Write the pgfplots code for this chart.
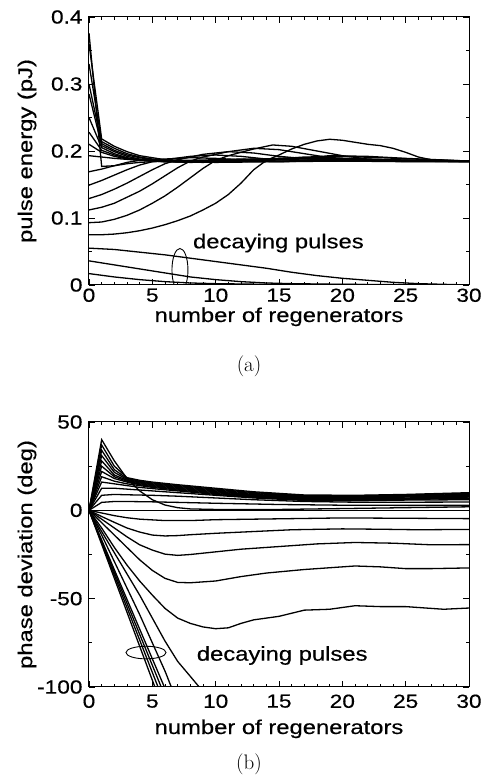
\documentclass[border=0pt]{standalone}
\usepackage{fontspec}
\usepackage{pgfplots}
\pgfplotsset{compat=1.18}
\newfontfamily\lab{Liberation Sans}[FakeStretch=1.19, FakeBold=0.4]
\pgfplotscreateplotcyclelist{mylist}{{black,solid,line width=1.3pt,mark=none}\\}
\pgfplotsset{myax/.style={
  scale only axis, width=380pt, xmin=0, xmax=30,
  axis line style={line width=1pt},
  xtick={0,5,...,30}, xticklabels={0,5,10,15,20,25,30},
  minor x tick num=4,
  major tick length=6pt, minor tick length=3pt,
  tick style={black, line width=0.7pt},
  tick label style={font=\lab\fontsize{19}{21}\selectfont},
  yticklabel style={xshift=-3pt},
  label style={font=\lab\fontsize{20}{22}\selectfont},
  xlabel={number of regenerators},
  ylabel style={at={([xshift=-62pt]axis description cs:0,0.5)}, anchor=center},
  cycle list name=mylist,
}}
\begin{document}
\begin{tikzpicture}
\useasboundingbox (0,0) rectangle (486pt,778pt);
% ---------------- panel (a)
\begin{axis}[myax, at={(89pt,493pt)}, anchor=south west, height=268pt,
  ymin=0, ymax=0.4, ytick={0,0.1,0.2,0.3,0.4}, yticklabels={0,0.1,0.2,0.3,0.4},
  minor y tick num=1,
  xlabel style={at={(axis description cs:0.5,0)}, anchor=base, yshift=-37pt},
  ylabel={pulse energy (pJ)}]
% upper curves
\addplot coordinates {(0,0.376)(1,0.177)(2,0.178)(3,0.181)(4,0.183)(5,0.184)(7,0.185)(10,0.185)(15,0.184)(20,0.185)(25,0.184)(30,0.184)};
\addplot coordinates {(0,0.36)(1,0.218)(2,0.207)(3,0.199)(4,0.193)(5,0.19)(6,0.187)(8,0.186)(10,0.187)(12,0.188)(14,0.187)(17,0.186)(20,0.185)(25,0.185)(30,0.184)};
\addplot coordinates {(0,0.33)(1,0.214)(2,0.204)(3,0.196)(4,0.191)(5,0.188)(6,0.186)(8,0.185)(10,0.186)(13,0.188)(16,0.187)(20,0.185)(30,0.184)};
\addplot coordinates {(0,0.30)(1,0.211)(2,0.201)(3,0.194)(4,0.19)(5,0.187)(7,0.185)(9,0.185)(12,0.187)(15,0.189)(18,0.188)(22,0.186)(30,0.185)};
\addplot coordinates {(0,0.285)(1,0.208)(2,0.199)(3,0.192)(4,0.188)(6,0.185)(8,0.184)(11,0.186)(14,0.188)(17,0.189)(20,0.188)(24,0.186)(30,0.185)};
\addplot coordinates {(0,0.25)(1,0.205)(2,0.196)(3,0.19)(4,0.187)(6,0.184)(9,0.184)(12,0.186)(16,0.19)(19,0.19)(22,0.188)(26,0.186)(30,0.185)};
\addplot coordinates {(0,0.228)(1,0.201)(2,0.194)(3,0.189)(4,0.186)(6,0.184)(9,0.183)(13,0.186)(17,0.191)(20,0.192)(23,0.19)(27,0.187)(30,0.185)};
\addplot coordinates {(0,0.21)(1,0.198)(2,0.192)(3,0.188)(5,0.185)(8,0.183)(12,0.184)(16,0.188)(19,0.193)(22,0.192)(25,0.189)(30,0.185)};
\addplot coordinates {(0,0.193)(1,0.191)(2,0.189)(4,0.186)(7,0.184)(10,0.183)(15,0.184)(20,0.186)(25,0.186)(30,0.185)};
% rising curves
\addplot coordinates {(0,0.169)(1,0.173)(2,0.178)(3,0.183)(4,0.186)(6,0.188)(8,0.19)(10,0.189)(12,0.187)(15,0.185)(30,0.185)};
\addplot coordinates {(0,0.149)(1,0.156)(2,0.164)(3,0.172)(4,0.179)(5,0.184)(6,0.187)(8,0.192)(10,0.194)(12,0.192)(14,0.188)(17,0.186)(30,0.185)};
\addplot coordinates {(0,0.129)(1,0.135)(2,0.143)(3,0.152)(4,0.162)(5,0.172)(6,0.181)(7,0.187)(9,0.195)(11,0.199)(13,0.197)(15,0.192)(18,0.187)(30,0.185)};
\addplot coordinates {(0,0.112)(1,0.116)(2,0.122)(3,0.131)(4,0.14)(5,0.151)(6,0.163)(7,0.175)(8,0.185)(9,0.191)(11,0.199)(13,0.204)(15,0.202)(17,0.196)(19,0.19)(22,0.186)(30,0.185)};
\addplot coordinates {(0,0.093)(1,0.094)(2,0.098)(3,0.104)(4,0.112)(5,0.122)(6,0.133)(7,0.146)(8,0.16)(9,0.174)(10,0.186)(11,0.193)(13,0.203)(14.5,0.209)(16,0.207)(18,0.2)(20,0.193)(22,0.188)(25,0.186)(30,0.185)};
\addplot coordinates {(0,0.075)(1,0.075)(2,0.076)(3,0.078)(4,0.081)(5,0.085)(6,0.09)(7,0.096)(8,0.103)(9,0.112)(10,0.122)(11,0.135)(12,0.152)(13,0.172)(14,0.186)(15,0.194)(16,0.203)(17,0.21)(18,0.215)(19,0.2175)(20,0.216)(21,0.213)(22,0.21)(23,0.208)(24,0.204)(25,0.198)(26,0.191)(27,0.187)(28,0.186)(30,0.185)};
% decaying
\addplot coordinates {(0,0.055)(2,0.053)(4,0.049)(6,0.045)(8,0.04)(10,0.035)(12,0.03)(14,0.025)(16,0.019)(18,0.014)(20,0.01)(22,0.007)(24,0.004)(26,0.002)(28,0.001)(30,0.0)};
\addplot coordinates {(0,0.036)(2,0.03)(4,0.024)(6,0.018)(8,0.012)(10,0.008)(12,0.005)(14,0.003)(16,0.002)(20,0.001)(30,0)};
\addplot coordinates {(0,0.017)(2,0.012)(4,0.008)(6,0.005)(8,0.003)(10,0.002)(14,0.001)(30,0)};
\draw[line width=0.9pt] (axis cs:7.18,0.0224) ellipse [x radius=8pt, y radius=21.5pt];
\node[anchor=base west, inner sep=0pt, font=\lab\fontsize{20}{22}\selectfont] at (axis cs:8.2,0.0548) {decaying pulses};
\end{axis}
% ---------------- panel (b)
\begin{axis}[myax, at={(89pt,91pt)}, anchor=south west, height=265pt,
  ymin=-100, ymax=50, ytick={-100,-50,0,50}, yticklabels={-100,-50,0,50},
  minor y tick num=1,
  xticklabel style={yshift=-4pt},
  xlabel style={at={(axis description cs:0.5,0)}, anchor=base, yshift=-47pt},
  ylabel={phase deviation (deg)}]
\addplot coordinates {(0,0)(1,40)(2,28)(3,18)(4,11)(5,6)(6,3)(7,1.5)(8,0.8)(10,0.5)(15,0.5)(20,1)(25,1.5)(30,2)};
\addplot coordinates {(0,0)(1,37)(2,25)(3,18.5)(4,17)(5,16)(7,14.5)(10,12.5)(13,10.5)(17,8.7)(21,8.5)(25,9)(30,10)};
\addplot coordinates {(0,0)(1,34)(2,23)(3,18)(4,16.5)(5,15.5)(7,14)(10,12)(13,10)(17,8.3)(21,8.2)(25,8.7)(30,9.5)};
\addplot coordinates {(0,0)(1,31)(2,21.5)(3,17.5)(4,16)(5,15)(7,13.5)(10,11.5)(13,9.5)(17,8)(21,7.8)(25,8.3)(30,9)};
\addplot coordinates {(0,0)(1,28)(2,20)(3,17)(4,15.5)(5,14.5)(7,13)(10,11)(13,9)(17,7.6)(21,7.4)(25,7.9)(30,8.5)};
\addplot coordinates {(0,0)(1,25)(2,19)(3,16.5)(4,15)(5,14)(7,12.5)(10,10.5)(13,8.6)(17,7.2)(21,7)(25,7.5)(30,8)};
\addplot coordinates {(0,0)(1,22)(2,18)(3,16)(4,14.5)(5,13.5)(7,12)(10,10)(13,8.2)(17,6.8)(21,6.6)(25,7)(30,7.5)};
\addplot coordinates {(0,0)(1,19)(2,16.5)(3,15)(4,14)(5,13)(7,11.5)(10,9.5)(13,7.8)(17,6.4)(21,6.2)(25,6.6)(30,7)};
\addplot coordinates {(0,0)(1,16)(2,15)(3,14)(4,13)(5,12.3)(7,11)(10,9)(13,7.4)(17,6)(21,5.8)(25,6.2)(30,6.6)};
\addplot coordinates {(0,0)(1,12.5)(2,12.5)(3,12)(4,11.5)(5,11)(7,10)(10,8.5)(13,7)(17,5.6)(21,5.4)(25,5.8)(30,6)};
\addplot coordinates {(0,0)(1,8.5)(2,9)(3,8.8)(5,8.5)(7,8)(10,7)(13,6)(17,5)(21,4.6)(25,4.6)(30,4.7)};
\addplot coordinates {(0,0)(1,4.5)(2,5)(3,5)(5,4.8)(7,4.5)(10,4)(15,3.3)(20,2.9)(25,2.8)(30,2.8)};
\addplot coordinates {(0,0)(30,0)};
% negative
\addplot coordinates {(0,0)(1,-1.5)(2,-3)(3,-4.2)(4,-5)(6,-5.8)(8,-5.8)(10,-5.3)(15,-4.8)(20,-4.3)(25,-4.5)(30,-4.7)};
\addplot coordinates {(0,0)(1,-3.5)(2,-6.8)(3,-10)(4,-12.3)(5,-14)(6,-14.5)(7,-14.3)(8,-13.8)(10,-13)(13,-12)(16,-11)(20,-10.5)(23,-10.7)(26,-11)(30,-10.8)};
\addplot coordinates {(0,0)(1,-5)(2,-10)(3,-15)(4,-19.5)(5,-22.5)(6,-24.8)(7,-25.5)(8,-25)(10,-23.5)(12,-22)(15,-20.5)(18,-19)(21,-18.2)(24,-18.6)(27,-19.5)(30,-19.4)};
\addplot coordinates {(0,0)(1,-7)(2,-14)(3,-21)(4,-28)(5,-34)(6,-38.5)(7,-40.8)(8,-41)(10,-40)(12,-37.5)(14,-35.5)(17,-33.5)(19,-32.5)(21,-31.5)(23,-32)(25,-33)(27,-33)(30,-32.6)};
\addplot coordinates {(0,0)(1,-10)(2,-21)(3,-31)(4,-40)(5,-48)(6,-55.5)(7,-61)(8,-64)(9,-66)(10,-67)(11,-66.5)(12,-64)(13,-62)(15,-60)(17,-56.5)(19,-56)(21,-54)(23,-54.5)(25,-54.5)(27,-55.5)(28,-56)(30,-55.3)};
% decaying
\addplot coordinates {(0,0)(1,-12)(2,-24)(3,-36)(4,-48)(5,-61)(6,-74)(7,-85.5)(8,-94)(8.7,-100)};
\addplot coordinates {(0,0)(1,-14)(2,-29)(3,-44)(4,-59)(5,-75)(6,-91)(6.5,-100)};
\addplot coordinates {(0,0)(5.95,-100)};
\addplot coordinates {(0,0)(5.7,-100)};
\addplot coordinates {(0,0)(5.45,-100)};
\addplot coordinates {(0,0)(5.2,-100)};
\draw[line width=0.9pt] (axis cs:4.5,-80.5) ellipse [x radius=20pt, y radius=6.3pt];
\node[anchor=base west, inner sep=0pt, font=\lab\fontsize{20}{22}\selectfont] at (axis cs:8.5,-85.1) {decaying pulses};
\end{axis}
\node[font=\fontsize{21}{24}\selectfont] at (249pt,412pt) {(a)};
\node[font=\fontsize{21}{24}\selectfont] at (249pt,14pt) {(b)};
\end{tikzpicture}
\end{document}
